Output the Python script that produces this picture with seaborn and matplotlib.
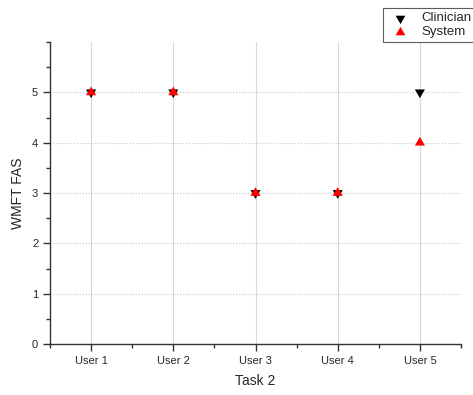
import numpy as np
import pandas as pd
import matplotlib.pyplot as plt
from matplotlib.ticker import MultipleLocator
import seaborn as sns

users = ['User 1', 'User 2', 'User 3', 'User 4', 'User 5']
clinician = [5, 5, 3, 3, 5]
system = [5, 5, 3, 3, 4]

df = pd.DataFrame({
    'user': users * 2,
    'score': clinician + system,
    'rater': ['Clinician'] * 5 + ['System'] * 5,
})

# triangles centred on their centroid, so the two overlap into a star
tri_up = [(0, 1), (-0.866, -0.5), (0.866, -0.5), (0, 1)]
tri_down = [(0, -1), (-0.866, 0.5), (0.866, 0.5), (0, -1)]

sns.set_style('white')
plt.rcParams['font.family'] = ['Liberation Sans', 'DejaVu Sans']

fig = plt.figure(figsize=(4.73, 3.95), dpi=100)
ax = fig.add_axes([50/473, 51/395, 411/473, 302/395])

sns.scatterplot(data=df, x='user', y='score', hue='rater', style='rater',
                palette={'Clinician': 'black', 'System': 'red'},
                markers={'Clinician': tri_down, 'System': tri_up},
                s=70, linewidth=0, ax=ax, legend=False, zorder=3)

ax.set_xlim(-0.5, 4.5)
ax.set_ylim(0, 6)
ax.yaxis.set_minor_locator(MultipleLocator(0.5))
ax.xaxis.set_minor_locator(MultipleLocator(0.5))
ax.set_yticks([0, 1, 2, 3, 4, 5])
ax.set_xticks(range(len(users)))
ax.set_xticklabels(users)

ax.grid(axis='x', which='major', color='#d8d8d8', linewidth=0.8, linestyle='-')
ax.grid(axis='y', which='major', color='#c8c8c8', linewidth=0.8, linestyle=':')
ax.set_axisbelow(True)

for s in ['top', 'right']:
    ax.spines[s].set_visible(False)
for s in ['left', 'bottom']:
    ax.spines[s].set_color('#333333')
    ax.spines[s].set_linewidth(1.0)

ax.tick_params(which='major', direction='out', length=5, width=1, color='#333333',
               labelsize=8, left=True, bottom=True)
ax.tick_params(which='minor', direction='out', length=3, width=1, color='#333333',
               left=True, bottom=True)

ax.set_xlabel('Task 2', fontsize=10, labelpad=6)
ax.set_ylabel('WMFT FAS', fontsize=10, labelpad=5)

h1 = ax.scatter([], [], marker=tri_down, color='black', s=65, linewidth=0)
h2 = ax.scatter([], [], marker=tri_up, color='red', s=65, linewidth=0)
leg = fig.legend([h1, h2], ['Clinician', 'System'], loc='upper left',
                 bbox_to_anchor=(383/473, 1 - 8/395), fontsize=9.5,
                 frameon=True, fancybox=False, borderpad=0.3,
                 labelspacing=0.15, handletextpad=0.6, borderaxespad=0)
leg.get_frame().set_edgecolor('#333333')
leg.get_frame().set_linewidth(0.8)

fig.savefig('out.png', dpi=100)
